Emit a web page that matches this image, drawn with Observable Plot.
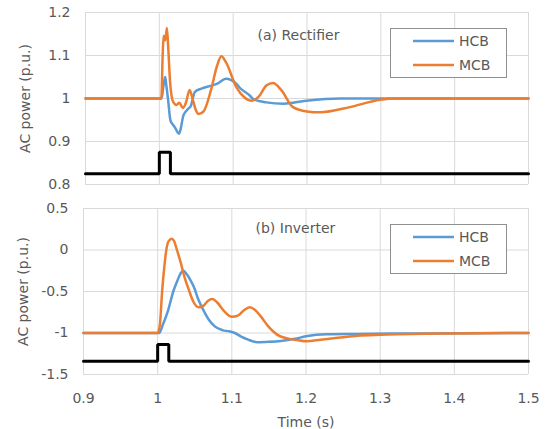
<!DOCTYPE html>
<html>
<head>
<meta charset="utf-8">
<script src="https://cdn.jsdelivr.net/npm/d3@7"></script>
<script src="https://cdn.jsdelivr.net/npm/@observablehq/plot@0.6"></script>
<style>
  body { margin: 0; background: #fff; }
  #chart { position: relative; width: 547px; height: 429px; font-family: "DejaVu Sans", sans-serif; }
  #chart svg { position: absolute; left: 0; }
  .legend { position: absolute; width: 115px; height: 48px; border: 1px solid #8f8f8f; background: #fff; }
</style>
</head>
<body>
<div id="chart"></div>
<script>
// ---------- data ----------
const xTicks = [0.9, 1.0, 1.1, 1.2, 1.3, 1.4, 1.5];
const topYTicks = [0.8, 0.9, 1.0, 1.1, 1.2];
const botYTicks = [-1.5, -1.0, -0.5, 0, 0.5];

// (a) Rectifier
const recHCB_t = [0.9, 1.003, 1.006, 1.008, 1.0095, 1.0117, 1.015, 1.018, 1.021, 1.0266, 1.029, 1.032, 1.036, 1.039, 1.0425, 1.048, 1.057, 1.0705, 1.08, 1.09, 1.1045, 1.109, 1.1225, 1.127, 1.145, 1.168, 1.199, 1.245, 1.5];
const recHCB_v = [1.0, 1.0, 1.035, 1.05, 1.03, 1.0, 0.949, 0.94, 0.933, 0.918, 0.93, 0.957, 0.97, 0.976, 0.982, 1.015, 1.023, 1.03, 1.036, 1.046, 1.034, 1.025, 1.007, 0.999, 0.991, 0.988, 0.995, 1.0, 1.0];
const recMCB_t = [0.9, 1.0027, 1.0045, 1.0058, 1.008, 1.0103, 1.012, 1.0145, 1.0185, 1.023, 1.027, 1.032, 1.036, 1.041, 1.045, 1.049, 1.0537, 1.06, 1.07, 1.078, 1.084, 1.09, 1.1045, 1.115, 1.125, 1.135, 1.145, 1.154, 1.165, 1.181, 1.2, 1.2175, 1.258, 1.299, 1.32, 1.5];
const recMCB_v = [1.0, 1.0, 1.10, 1.146, 1.135, 1.164, 1.12, 1.04, 0.993, 0.985, 0.99, 0.978, 0.99, 1.02, 1.0, 0.975, 0.964, 0.97, 1.02, 1.075, 1.098, 1.085, 1.026, 1.003, 0.995, 1.005, 1.03, 1.036, 1.02, 0.98, 0.97, 0.968, 0.98, 0.997, 1.0, 1.0];
const recPulse_t = [0.9, 1.0, 1.0, 1.015, 1.015, 1.5];
const recPulse_v = [0.825, 0.825, 0.875, 0.875, 0.825, 0.825];

// (b) Inverter
const invHCB_t = [0.9, 1.002, 1.007, 1.014, 1.021, 1.027, 1.031, 1.035, 1.039, 1.044, 1.049, 1.055, 1.062, 1.069, 1.077, 1.087, 1.096, 1.104, 1.112, 1.122, 1.134, 1.15, 1.166, 1.185, 1.2, 1.228, 1.27, 1.35, 1.5];
const invHCB_v = [-1.0, -1.0, -0.9, -0.73, -0.5, -0.36, -0.28, -0.25, -0.29, -0.36, -0.45, -0.6, -0.73, -0.84, -0.92, -0.965, -0.98, -1.0, -1.04, -1.08, -1.11, -1.105, -1.095, -1.07, -1.04, -1.016, -1.012, -1.005, -1.0];
const invMCB_t = [0.9, 1.0, 1.003, 1.006, 1.009, 1.012, 1.015, 1.019, 1.022, 1.026, 1.031, 1.036, 1.042, 1.048, 1.055, 1.062, 1.068, 1.074, 1.08, 1.09, 1.1, 1.108, 1.116, 1.124, 1.131, 1.139, 1.15, 1.161, 1.175, 1.188, 1.201, 1.22, 1.24, 1.274, 1.31, 1.4, 1.5];
const invMCB_v = [-1.0, -1.0, -0.9, -0.5, -0.2, 0.02, 0.11, 0.135, 0.11, 0.0, -0.15, -0.32, -0.48, -0.62, -0.69, -0.67, -0.61, -0.59, -0.63, -0.74, -0.805, -0.79, -0.73, -0.69, -0.72, -0.8, -0.93, -1.02, -1.065, -1.085, -1.1, -1.08, -1.06, -1.03, -1.018, -1.005, -1.0];
const invPulse_t = [0.9, 1.0, 1.0, 1.015, 1.015, 1.5];
const invPulse_v = [-1.34, -1.34, -1.14, -1.14, -1.34, -1.34];

const seriesNames = ["HCB", "MCB"];
const titles = ["(a) Rectifier", "(b) Inverter"];

// ---------- build ----------
const zip = (t, v) => t.map((x, i) => ({t: x, v: v[i]}));
const BLUE = "#5B9BD5", ORANGE = "#ED7D31", GRID = "#d9d9d9", TXT = "#595959";
const FONT = "'DejaVu Sans', sans-serif";
const fmt = d => String(+d.toFixed(2));

function panel({yDomain, yTicks, hcb, mcb, pulse, title, height, mt, mb, ml, showX, titleDy}) {
  return Plot.plot({
    width: 547, height,
    marginLeft: ml, marginRight: 19, marginTop: mt, marginBottom: mb,
    style: {fontFamily: FONT, fontSize: "14px", color: TXT, background: "transparent", overflow: "visible"},
    x: {domain: [0.9, 1.5]},
    y: {domain: yDomain},
    marks: [
      Plot.gridX(xTicks, {stroke: GRID, strokeOpacity: 1}),
      Plot.gridY(yTicks, {stroke: GRID, strokeOpacity: 1}),
      Plot.axisY(yTicks, {tickSize: 0, tickPadding: 15, tickFormat: fmt, label: "AC power (p.u.)", labelAnchor: "center", labelOffset: 65, labelArrow: "none", fill: TXT}),
      showX
        ? Plot.axisX(xTicks, {tickSize: 0, tickPadding: 19, tickFormat: fmt, label: "Time (s)", labelAnchor: "center", labelOffset: 52, labelArrow: "none", fill: TXT})
        : Plot.axisX(xTicks, {ticks: [], label: null, tickSize: 0, tickFormat: () => ""}),
      Plot.line(hcb, {x: "t", y: "v", stroke: BLUE, strokeWidth: 2.5, curve: "monotone-x"}),
      Plot.line(mcb, {x: "t", y: "v", stroke: ORANGE, strokeWidth: 2.5, curve: "monotone-x"}),
      Plot.line(pulse, {x: "t", y: "v", stroke: "#000", strokeWidth: 3, strokeLinejoin: "miter"}),
      Plot.text([title], {text: d => d, frameAnchor: "top-left", dx: 172, dy: titleDy, textAnchor: "start", lineAnchor: "middle", fill: TXT, fontSize: 14})
    ]
  });
}

const chart = document.getElementById("chart");
const top1 = panel({yDomain: [0.8, 1.2], yTicks: topYTicks, hcb: zip(recHCB_t, recHCB_v), mcb: zip(recMCB_t, recMCB_v), pulse: zip(recPulse_t, recPulse_v), title: titles[0], height: 195, mt: 12, mb: 11, ml: 85, showX: false, titleDy: 23});
top1.style.top = "0px";
chart.appendChild(top1);
const bot1 = panel({yDomain: [-1.5, 0.5], yTicks: botYTicks, hcb: zip(invHCB_t, invHCB_v), mcb: zip(invMCB_t, invMCB_v), pulse: zip(invPulse_t, invPulse_v), title: titles[1], height: 234, mt: 13, mb: 55, ml: 83, showX: true, titleDy: 20});
bot1.style.top = "195px";
chart.appendChild(bot1);

function legend(top) {
  const div = document.createElement("div");
  div.className = "legend";
  div.style.left = "390px";
  div.style.top = top + "px";
  const colors = [BLUE, ORANGE];
  let html = '<svg width="115" height="48" style="position:absolute;left:0;top:0">';
  seriesNames.forEach((n, i) => {
    const y = 12 + i * 24;
    html += `<line x1="22" x2="63" y1="${y}" y2="${y}" stroke="${colors[i]}" stroke-width="2.5"/>`;
    html += `<text x="68" y="${y}" dy="0.35em" fill="${TXT}" font-family="${FONT.replace(/'/g, '&quot;')}" font-size="14">${n}</text>`;
  });
  html += '</svg>';
  div.innerHTML = html;
  chart.appendChild(div);
}
legend(28);
legend(224);
</script>
</body>
</html>
